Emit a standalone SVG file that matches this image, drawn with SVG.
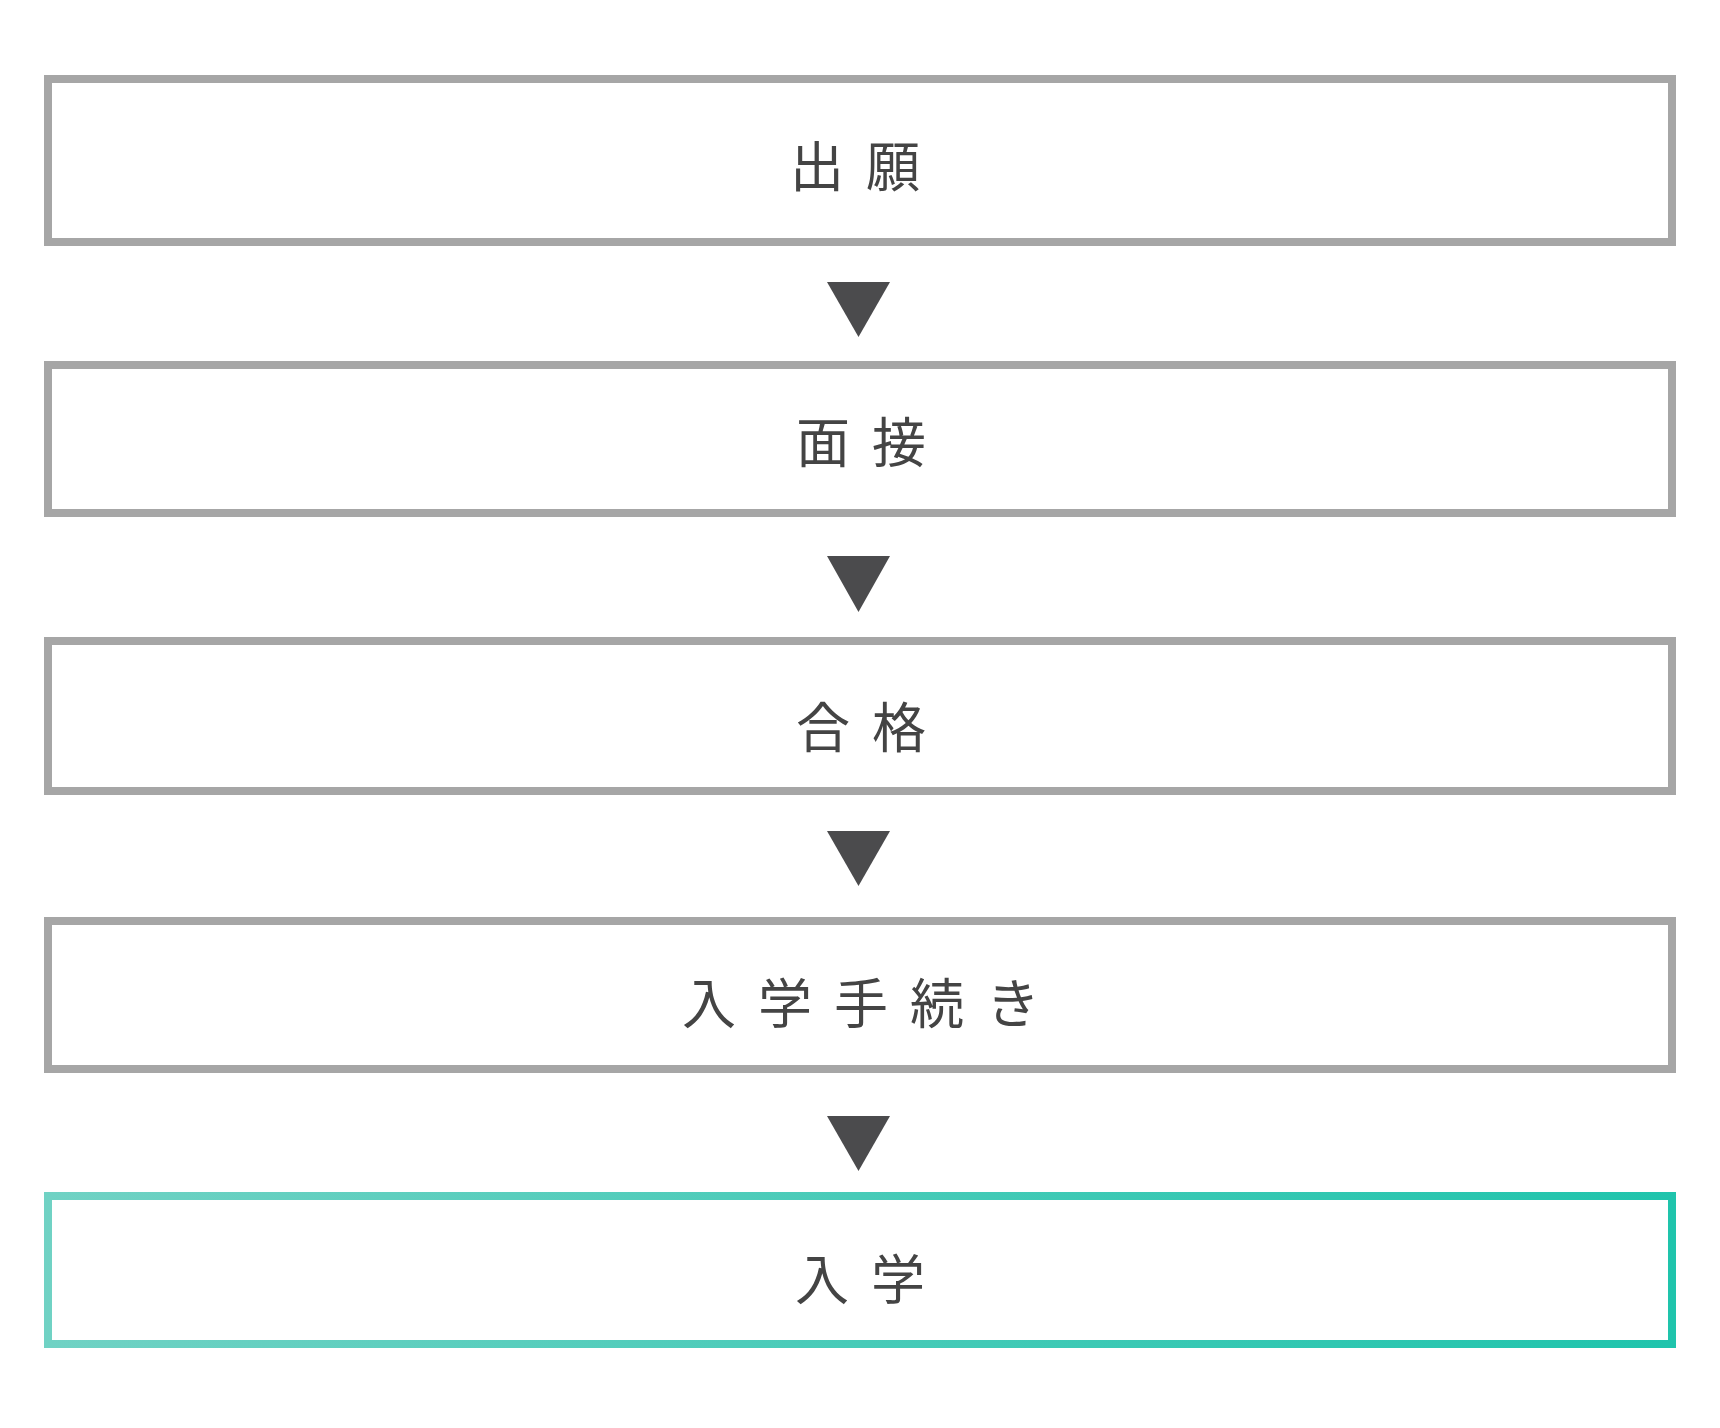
<svg xmlns="http://www.w3.org/2000/svg" width="1720" height="1428" viewBox="0 0 1720 1428">
  <style>
    .box { fill: #ffffff; stroke: #a6a6a6; stroke-width: 8; }
    .box-final { fill: #ffffff; stroke: url(#teal); stroke-width: 8; }
    .label { font-family: "Noto Sans CJK JP", "Noto Sans CJK SC", sans-serif; font-size: 54px; fill: #444444; text-anchor: middle; letter-spacing: 22px; }
    .arrow { fill: #4b4b4d; }
  </style>
  <defs>
    <linearGradient id="teal" gradientUnits="userSpaceOnUse" x1="44" y1="0" x2="1676" y2="0">
      <stop offset="0" stop-color="#70d2c4"/>
      <stop offset="1" stop-color="#1fc4ac"/>
    </linearGradient>
  </defs>
  <rect x="0" y="0" width="1720" height="1428" fill="#ffffff"/>

  <g id="node-shutsugan">
    <rect class="box" x="48" y="79" width="1624" height="163"/>
    <text class="label" x="866" y="187">出願</text>
  </g>
  <g id="node-mensetsu">
    <rect class="box" x="48" y="365" width="1624" height="148"/>
    <text class="label" x="872" y="463">面接</text>
  </g>
  <g id="node-goukaku">
    <rect class="box" x="48" y="641" width="1624" height="150"/>
    <text class="label" x="872" y="748">合格</text>
  </g>
  <g id="node-nyugaku-tetsuzuki">
    <rect class="box" x="48" y="921" width="1624" height="148"/>
    <text class="label" x="872" y="1024">入学手続き</text>
  </g>
  <g id="node-nyugaku">
    <rect class="box-final" x="48" y="1196" width="1624" height="148"/>
    <text class="label" x="871" y="1300">入学</text>
  </g>

  <g id="connectors">
    <polygon class="arrow" points="827,282 890,282 858.5,337"/>
    <polygon class="arrow" points="827,556 890,556 858.5,612"/>
    <polygon class="arrow" points="827,831 890,831 858.5,886"/>
    <polygon class="arrow" points="827,1116 890,1116 858.5,1171"/>
  </g>
</svg>
